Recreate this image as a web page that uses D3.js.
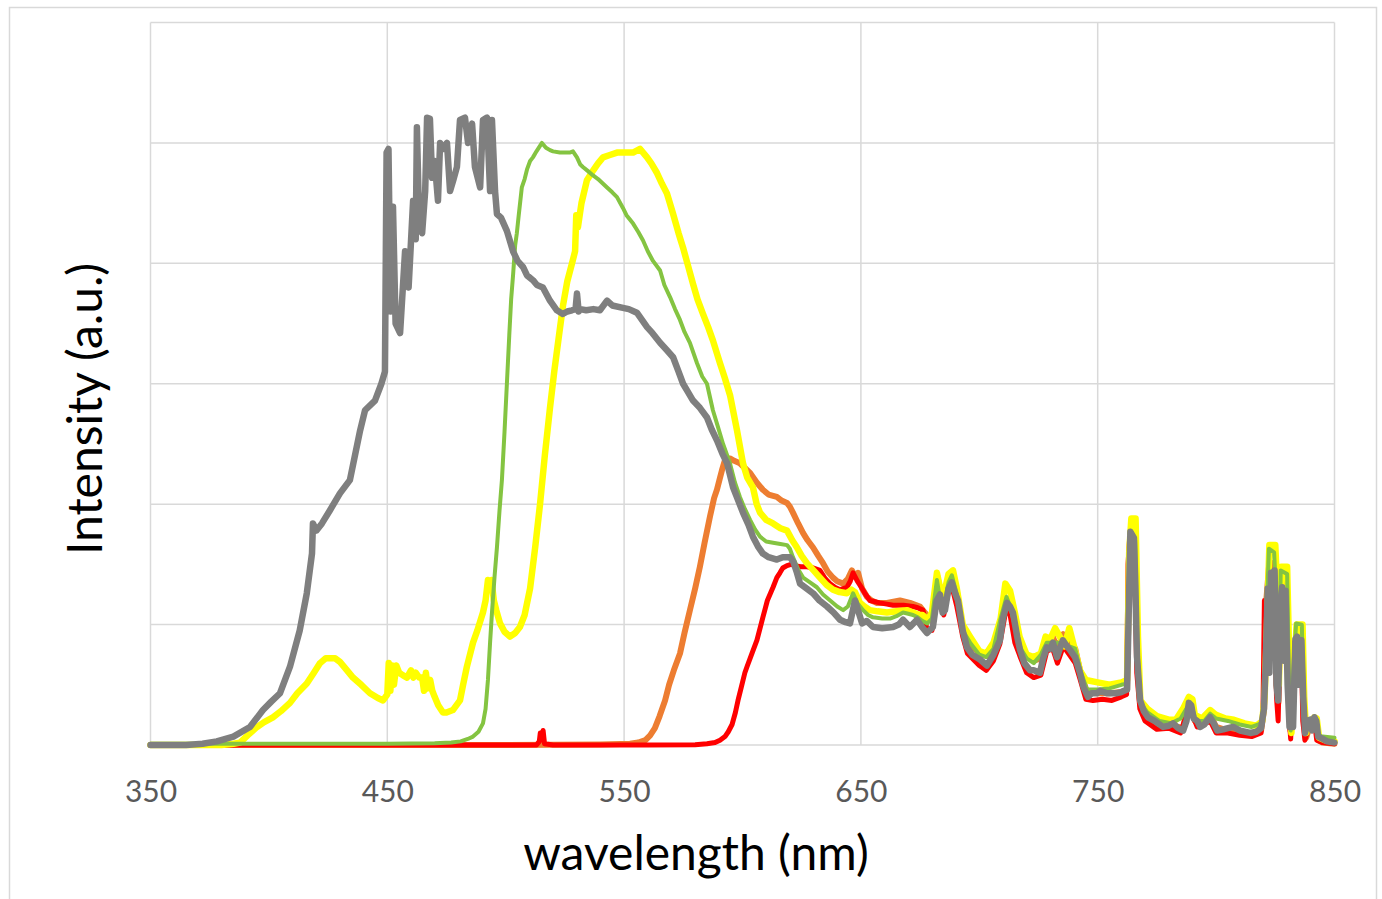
<!DOCTYPE html>
<html><head><meta charset="utf-8">
<script src="https://cdn.jsdelivr.net/npm/d3@7"></script>
<style>html,body{margin:0;padding:0;background:#fff;}svg{display:block;}</style>
</head><body><div id="chart"></div>
<script>
// ---------- DATA ----------
const xTicks = [350, 450, 550, 650, 750, 850];
const yGrid = [1, 2, 3, 4, 5, 6];
const xTitle = "wavelength (nm)";
const yTitle = "Intensity (a.u.)";

// gray series
const grayWl = [350,365,372,378,385,392,397.5,401,404.7,408.9,413,416,418.2,418.6,420,422.4,425.8,430,434.2,438.5,440.6,444.8,447.5,449,449.7,450.5,451.4,452.4,453.5,455.4,457.5,459,460.9,462,462.5,463.5,464.7,466,466.8,468,468.9,470,471.4,472.3,473.5,475.2,476.5,478,479.4,480.7,482.8,484.1,485.8,487,489.2,490.4,492.1,493.4,494.2,495.5,496.3,498,500.5,503.1,505,507.3,509,511.5,513.2,515.7,518.7,521.6,524.1,526,528,529.5,530.1,530.8,531.4,534,537,539.8,542.8,545,549.5,552,555.4,559.7,562,565.2,568,570.7,573,574.9,577,579.1,582,585,587,589.2,591.5,593.5,596,598,600.2,602.5,604.4,606.5,608.6,611,614.5,617,620,621.5,623,624.3,627,629.8,632.5,635.7,638.5,641.2,643.5,645.4,647.5,648.3,650.5,652.5,655.1,659,663.6,666,667.8,670.7,673.7,675.8,677.9,680.4,682,683.4,684.5,685.5,687,688.4,690,691,693,694.8,697,700.3,703.2,706,708.7,710,711.7,713,714.2,716,717.2,719,721.4,723,725.6,727,728.5,730,731.1,732.8,734,735.3,737,738.3,740.4,742.5,744,745.9,747.5,749.7,751,753.9,756,758.1,760,762.4,763.2,763.8,765.3,765.8,766.6,767.9,769.5,771.2,774,777.6,780,781.8,784,786.1,787.5,788.5,789.5,790.5,792,793.3,795,797.5,799,800.5,803,805,807.2,810.2,814.4,817,819,820.2,821,821.8,822.5,823.2,824,824.7,825.5,826.2,827,827.9,828.6,829.3,830.2,831,831.8,832.5,833.5,834.2,835,836,836.8,837.6,838.5,839.7,840.5,841.5,842.3,843.1,845,846.9,850];
const grayVal = [0,0,0.01,0.03,0.07,0.15,0.29,0.36,0.43,0.65,0.95,1.26,1.59,1.84,1.78,1.84,1.95,2.09,2.2,2.61,2.78,2.86,3.0,3.1,4.92,4.95,3.6,4.47,3.5,3.42,4.1,3.8,4.52,4.2,5.13,4.3,4.25,4.6,5.21,5.2,4.71,4.85,4.52,5.0,4.95,5.0,4.6,4.7,4.8,5.19,5.21,5.0,5.16,4.8,4.63,5.19,5.21,4.6,5.19,4.6,4.41,4.38,4.27,4.1,4.02,3.97,3.9,3.86,3.82,3.8,3.69,3.61,3.58,3.6,3.61,3.62,3.75,3.6,3.62,3.61,3.62,3.61,3.69,3.65,3.63,3.62,3.59,3.47,3.42,3.34,3.28,3.22,3.1,3.0,2.93,2.86,2.8,2.72,2.62,2.53,2.42,2.34,2.14,2.04,1.93,1.83,1.73,1.65,1.59,1.56,1.54,1.56,1.56,1.52,1.43,1.34,1.3,1.26,1.2,1.15,1.1,1.04,1.02,1.01,1.2,1.15,1.01,1.03,0.98,0.97,0.98,1.0,1.04,0.98,1.04,0.98,0.93,0.98,1.2,1.25,1.1,1.12,1.3,1.35,1.25,1.2,0.95,0.81,0.75,0.71,0.66,0.75,0.87,1.05,1.18,1.15,1.1,0.9,0.79,0.68,0.62,0.62,0.6,0.72,0.81,0.8,0.85,0.73,0.8,0.87,0.82,0.79,0.73,0.6,0.48,0.4,0.43,0.43,0.45,0.43,0.43,0.43,0.44,0.46,1.2,1.77,1.72,1.4,0.73,0.37,0.28,0.23,0.2,0.15,0.16,0.18,0.14,0.12,0.2,0.35,0.33,0.22,0.2,0.15,0.17,0.23,0.18,0.12,0.13,0.14,0.15,0.12,0.1,0.11,0.14,0.3,0.7,1.3,0.6,1.43,0.8,1.45,0.5,0.37,1.1,1.31,0.7,1.28,0.5,0.15,0.4,0.15,0.88,0.9,0.5,0.87,0.4,0.1,0.2,0.21,0.12,0.23,0.2,0.07,0.05,0.03,0.02];

// yellow series
const yellowWl = [350,380,385,387.8,391,395,398,401.7,405,408.9,412,416,419,421.6,424,425.8,428,430,433,435.5,439,442.7,446,448.2,450,450.6,451.3,452,452.8,453.8,455,456.5,458.3,460,461,462,463.5,464.7,465.5,466.3,467,468.1,469,470,471.5,473.5,475,477.7,480.7,482,483.6,486.2,488,490.4,491.5,492.5,493.3,494,495,496,497.6,499.5,501.8,504,506,508,510.3,512.5,514.5,516.5,518.7,520.5,522.5,524.2,526,528,529.3,529.8,530.5,532,534.3,536.9,539,541.1,544,547,550,553.8,556.7,559.7,561.5,563.9,566,568.1,570.7,573,574.9,577,579.1,581,583.3,585.5,587.5,590.5,592.5,594.8,597.7,600.2,602,604.4,606,607.4,610,612.9,616,618.8,621,623,625,627.2,630,632.7,635.5,638.2,641,644.1,646,647.5,649.6,651.5,653.8,657,661,665,669.4,672,674.9,676,678.3,680,682.1,683.5,685,687,688.9,690.5,693,696.1,700,703,706,709,711,713,715,717,720,723,726,728,730,732,734,736,738,740,742.5,745,750,755,760,762.4,763.3,764.2,766,767,768,771,775,780,783,786,788.5,790,791,794,797.5,800,804,807.5,812,817,819.5,820.5,821.5,822.5,825,825.8,826.5,827.5,830,830.8,831.8,833,834,836.5,837.2,838,840,841.5,842.5,843.5,846,850];
const yellowVal = [0,0,0.01,0.02,0.08,0.15,0.19,0.23,0.28,0.35,0.43,0.51,0.6,0.68,0.72,0.72,0.72,0.69,0.62,0.56,0.5,0.43,0.39,0.37,0.42,0.68,0.45,0.66,0.5,0.66,0.6,0.58,0.56,0.62,0.56,0.6,0.56,0.56,0.45,0.6,0.47,0.54,0.45,0.4,0.33,0.27,0.27,0.29,0.37,0.5,0.65,0.85,0.95,1.1,1.2,1.37,1.3,1.37,1.2,1.12,1.01,0.94,0.9,0.93,0.98,1.08,1.3,1.65,2.0,2.4,2.8,3.1,3.4,3.65,3.85,4.0,4.1,4.4,4.3,4.5,4.69,4.77,4.83,4.88,4.9,4.92,4.92,4.92,4.95,4.88,4.83,4.75,4.66,4.58,4.41,4.25,4.13,3.98,3.83,3.7,3.58,3.47,3.36,3.17,3.05,2.9,2.61,2.34,2.22,2.14,2.0,1.93,1.87,1.84,1.8,1.78,1.7,1.64,1.57,1.51,1.45,1.39,1.33,1.29,1.27,1.26,1.29,1.27,1.18,1.15,1.12,1.11,1.1,1.11,1.12,1.1,1.08,1.08,1.04,1.1,1.43,1.3,1.25,1.42,1.45,1.3,1.0,0.9,0.78,0.76,0.85,1.05,1.34,1.28,1.1,0.9,0.75,0.73,0.76,0.9,0.88,0.97,0.9,0.82,0.97,0.82,0.62,0.54,0.52,0.5,0.52,0.54,1.6,1.88,1.88,0.9,0.37,0.3,0.24,0.21,0.21,0.3,0.4,0.38,0.25,0.22,0.29,0.25,0.22,0.21,0.18,0.16,0.2,0.4,1.0,1.66,1.66,1.3,0.5,1.48,1.48,0.8,0.1,0.6,1.0,1.0,0.4,0.1,0.2,0.23,0.22,0.06,0.04,0.03];

// green series
const greenWl = [350,400,450,470,477,481,484,486.2,488.5,490.4,491.5,492.5,493.4,494.2,495.3,496.3,497.4,498.4,499.5,500.5,501.5,502.3,503.1,504,504.7,505.5,506.8,508,509,510.3,511.5,513,515.3,517,518.7,520,522.9,525,527,528.4,530.1,531.5,532.6,534.5,536.9,539,542.8,545,547,549.5,551,553.8,556,558,560,562.2,565.2,567,569.4,571.5,573.6,575.5,577.8,580.8,583,585,587.5,589.5,591.8,594.7,596.8,598.9,601,603.2,605.3,607.4,610,612.9,616,618.8,620,621.3,623.5,625.6,628.5,631.4,634,637,640,642.5,644.5,646.7,648.5,650.9,653,655.1,659,662.3,665,667.8,670,672,674,676,678,680,682.1,683.5,685,687,688.4,690.5,693,696.1,700,703,706,709,711.5,713,715.5,717.5,720,723,726,728.5,731,733,736,738,740.5,743,745.5,750,755,760,762.4,763.3,764,765.8,766.8,768,771,776,781,785,788,790,791.5,795,797.5,800,805,810,815,819,820.3,821.2,822.3,824.5,825.5,826.4,827.3,830,830.7,831.5,832.8,833.8,836.2,837,837.8,839.5,841.5,842.5,843.3,845,850];
const greenVal = [0.01,0.01,0.01,0.015,0.02,0.03,0.05,0.07,0.11,0.18,0.3,0.54,0.85,1.1,1.4,1.64,1.95,2.2,2.6,3.0,3.4,3.7,3.9,4.15,4.25,4.4,4.63,4.7,4.78,4.85,4.88,4.93,5.0,4.96,4.94,4.93,4.92,4.92,4.92,4.93,4.88,4.82,4.8,4.77,4.73,4.7,4.63,4.59,4.55,4.46,4.4,4.33,4.26,4.19,4.1,4.02,3.94,3.82,3.72,3.62,3.53,3.43,3.34,3.17,3.06,3.0,2.78,2.65,2.5,2.34,2.18,2.06,1.96,1.87,1.79,1.73,1.69,1.68,1.67,1.66,1.63,1.56,1.46,1.39,1.35,1.31,1.25,1.2,1.15,1.12,1.15,1.26,1.18,1.12,1.08,1.06,1.05,1.05,1.07,1.1,1.09,1.08,1.06,1.03,1.01,1.05,1.37,1.2,1.15,1.35,1.41,1.25,0.95,0.85,0.75,0.73,0.8,1.05,1.23,1.15,0.95,0.8,0.72,0.68,0.75,0.85,0.85,0.85,0.84,0.82,0.8,0.6,0.46,0.46,0.47,0.5,0.51,1.5,1.78,1.7,0.8,0.35,0.27,0.2,0.18,0.22,0.32,0.3,0.2,0.2,0.26,0.22,0.2,0.17,0.15,0.18,0.35,1.0,1.63,1.6,1.2,0.5,1.45,1.42,0.6,0.12,0.7,1.01,1.0,0.4,0.1,0.2,0.22,0.2,0.08,0.07,0.06];

// orange series
const orangeWl = [350,450,500,540,552.5,556,559,561,563,565,567.3,569,571,573.6,575.5,577.8,580,582,584,586.3,588,589.2,590.5,591.3,592.5,594,594.7,596.5,598.9,601,603.2,606,608.6,611,614.5,616.5,618.8,620,621.3,623.5,625.6,627.5,629.8,632,634,636,638.2,640,642.5,644.5,646.2,647.5,648.8,650.5,652.6,654.5,656.8,661,666.5,670.7,674.9,677,679.1,681,682.3,683.5,685,687,688.6,690.5,693,696,700,703,706,709,711.3,713,715,717,720,723,726,728.5,731,733,735.5,738,740.5,743,745.5,750,755,760,762.4,763.3,764,765.8,766.8,768,771,777,782,786,788.5,790,791,795,797.5,800,805,810,815,819,820.3,821.2,822.5,824.7,825.5,826.3,827.5,829.8,830.6,831.4,833,834,836.3,837,838,840,842,843,845,850];
const orangeVal = [0,0,0,0.005,0.01,0.02,0.04,0.08,0.14,0.24,0.37,0.5,0.62,0.76,0.93,1.12,1.3,1.48,1.68,1.9,2.05,2.12,2.22,2.28,2.36,2.38,2.38,2.36,2.34,2.3,2.26,2.18,2.12,2.08,2.06,2.03,2.01,1.98,1.93,1.84,1.76,1.7,1.64,1.57,1.51,1.44,1.39,1.36,1.34,1.38,1.45,1.4,1.43,1.3,1.23,1.2,1.18,1.18,1.2,1.18,1.15,1.1,1.04,1.1,1.4,1.28,1.2,1.36,1.42,1.28,0.97,0.85,0.76,0.74,0.82,1.0,1.2,1.15,1.0,0.85,0.74,0.7,0.72,0.85,0.9,0.8,0.92,0.85,0.8,0.58,0.44,0.43,0.43,0.44,0.46,1.45,1.7,1.65,0.7,0.33,0.22,0.15,0.16,0.14,0.35,0.3,0.2,0.17,0.25,0.15,0.12,0.1,0.08,0.12,0.3,1.2,1.52,1.5,0.5,0.35,1.38,1.35,0.4,0.12,0.7,0.95,0.93,0.3,0.06,0.18,0.2,0.04,0.02,0.01];

// red series
const redWl = [350,450,513,514.2,514.6,515.2,515.8,516.4,520,560,580,585,588.4,590.5,592.6,594,595.6,597,598.1,599.5,601,601.9,604,606.1,608.6,610.5,612.9,614.5,615.8,617,618.8,620.5,622.2,624.5,627.2,630,632.7,635,637,639,641.2,644.1,645.5,646.7,648.5,650.5,652,653.8,656,658,661,663.6,668,672,674,676.2,678,680,682,683.5,685,687,688.4,690.5,693,695,700,703,706,708.7,711.5,713,715,717.5,720,723,726,728.5,731,733,735.5,738,740.5,742.5,745,748,752,756,760,762.2,762.8,763.6,765.5,766.5,767.8,770,775,780,785,788.5,790,792,797.5,800,805,810,815,819,819.8,820.4,821.5,822.5,824.7,825.5,826.2,827.5,829.8,830.6,831.5,833,836,836.6,837.5,839.5,841.5,842.5,845,850];
const redVal = [0,0,0,0.03,0.1,0.06,0.12,0.01,0,0,0.003,0.01,0.02,0.04,0.07,0.11,0.17,0.27,0.37,0.48,0.6,0.65,0.76,0.87,1.06,1.2,1.31,1.39,1.43,1.47,1.49,1.5,1.49,1.48,1.48,1.47,1.45,1.38,1.34,1.31,1.29,1.31,1.36,1.43,1.36,1.3,1.25,1.2,1.19,1.18,1.17,1.16,1.16,1.15,1.14,1.12,0.95,0.95,1.2,1.15,1.08,1.28,1.32,1.15,0.9,0.76,0.66,0.62,0.7,0.84,1.15,1.08,0.85,0.72,0.6,0.56,0.58,0.78,0.8,0.68,0.82,0.75,0.68,0.55,0.38,0.37,0.38,0.37,0.4,0.42,1.5,1.75,1.6,0.6,0.3,0.2,0.13,0.14,0.1,0.32,0.25,0.15,0.2,0.1,0.1,0.08,0.07,0.1,0.3,1.2,0.8,1.4,1.4,0.4,0.2,1.25,1.25,0.3,0.05,0.85,0.85,0.2,0.04,0.18,0.2,0.04,0.02,0.01];

const seriesList = [
  {name: "orange", wl: orangeWl, val: orangeVal, color: "#ed7d31", width: 6},
  {name: "red",    wl: redWl,    val: redVal,    color: "#ff0000", width: 5},
  {name: "yellow", wl: yellowWl, val: yellowVal, color: "#ffff00", width: 6.5},
  {name: "green",  wl: greenWl,  val: greenVal,  color: "#84c441", width: 4},
  {name: "gray",   wl: grayWl,   val: grayVal,   color: "#7f7f7f", width: 6.5}
];

// ---------- DRAW ----------
const W = 1382, H = 899;
const svg = d3.select("#chart").append("svg").attr("width", W).attr("height", H);
const plot = {left: 150.5, right: 1334.5, top: 22.5, bottom: 745};

const x = d3.scaleLinear().domain([350, 850]).range([plot.left, plot.right]);
const y = d3.scaleLinear().domain([0, 6]).range([plot.bottom, plot.top]);

// outer border
svg.append("rect").attr("x", 9.5).attr("y", 7.5).attr("width", 1367).attr("height", 910)
  .attr("fill", "none").attr("stroke", "#d9d9d9").attr("stroke-width", 1.5);

// grid
const g = svg.append("g");
g.selectAll("line.h").data(yGrid).join("line")
  .attr("x1", plot.left).attr("x2", plot.right)
  .attr("y1", d => y(d)).attr("y2", d => y(d))
  .attr("stroke", "#d9d9d9").attr("stroke-width", 1.5);
g.selectAll("line.v").data(xTicks).join("line")
  .attr("x1", d => x(d)).attr("x2", d => x(d))
  .attr("y1", plot.top).attr("y2", plot.bottom)
  .attr("stroke", "#d9d9d9").attr("stroke-width", 1.5);
g.append("line").attr("x1", plot.left).attr("x2", plot.right)
  .attr("y1", y(0)).attr("y2", y(0)).attr("stroke", "#d9d9d9").attr("stroke-width", 1.5);

// x axis labels via d3 axis
const xAxis = d3.axisBottom(x).tickValues(xTicks).tickSize(0).tickPadding(0).tickFormat(d3.format("d"));
const axG = svg.append("g").attr("transform", `translate(0,${plot.bottom})`).call(xAxis);
axG.select(".domain").remove();
axG.selectAll("text").attr("y", 57).attr("dy", null)
  .attr("font-family", "Lato, 'Open Sans', sans-serif").attr("font-size", 30).attr("fill", "#595959");

// lines
const line = d3.line().x(d => x(d[0])).y(d => y(d[1]));
seriesList.forEach(s => {
  const pts = s.wl.map((w, i) => [w, s.val[i]]);
  svg.append("path").datum(pts).attr("d", line)
    .attr("fill", "none").attr("stroke", s.color).attr("stroke-width", s.width)
    .attr("stroke-linejoin", "round").attr("stroke-linecap", "round");
});

// titles
svg.append("text").attr("x", 696).attr("y", 870).attr("text-anchor", "middle")
  .attr("font-family", "Lato, 'Open Sans', sans-serif").attr("font-size", 48).attr("fill", "#000")
  .text(xTitle);
svg.append("text").attr("transform", "translate(102,409) rotate(-90)").attr("text-anchor", "middle")
  .attr("font-family", "Lato, 'Open Sans', sans-serif").attr("font-size", 48).attr("fill", "#000")
  .text(yTitle);
</script>
</body></html>
